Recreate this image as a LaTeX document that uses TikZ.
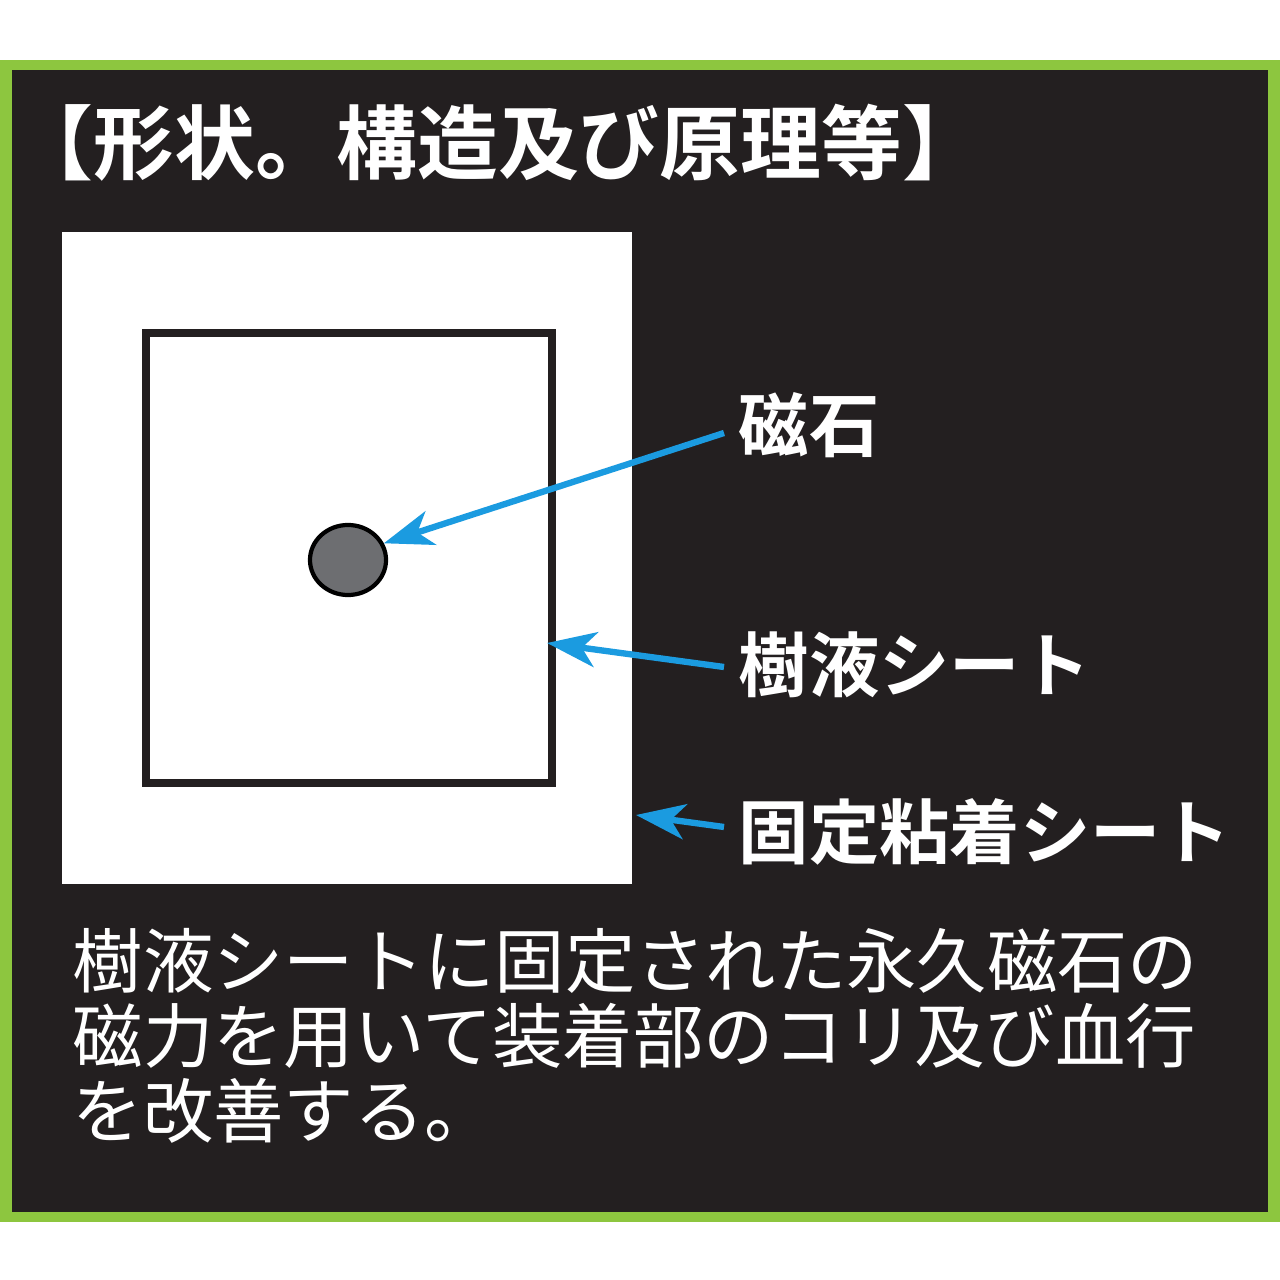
\documentclass[tikz,border=0pt]{standalone}
\usepackage{xcolor}
\usepackage{tikz}
\usepackage{fontspec}
\usetikzlibrary{shapes.geometric, arrows.meta, positioning, calc}

\newfontfamily\jpfont{Noto Sans CJK JP}
\newfontfamily\jpboldfont{Noto Sans CJK JP Bold}

\definecolor{framegreen}{HTML}{8DC63F}
\definecolor{boarddark}{HTML}{231F20}
\definecolor{pointblue}{HTML}{1B9BE0}
\definecolor{magnetgray}{HTML}{6D6E71}

\tikzset{
    partlabel/.style={anchor=west, text=white, inner sep=4pt, font=\jpboldfont\fontsize{20}{20}\selectfont},
    pointer/.style={-{Stealth[length=14pt, width=10pt, inset=4pt]}, line width=1.8pt, pointblue}
}

\begin{document}
\begin{tikzpicture}[x=0.01cm, y=-0.01cm]
    \useasboundingbox (0,0) rectangle (1280,1280);

    % Frame
    \fill[framegreen] (0,60) rectangle (1280,1222);
    \fill[boarddark] (12,70) rectangle (1268,1212);

    % Title
    \node[anchor=west, text=white, inner sep=0pt, font=\jpboldfont\fontsize{23}{23}\selectfont] (title) at (12,143) {【形状。構造及び原理等】};

    % Adhesive sheet
    \node[fill=white, minimum width=5.70cm, minimum height=6.52cm, inner sep=0pt] (adhesive) at (347,558) {};

    % Resin sheet
    \node[draw=boarddark, line width=2.3pt, fill=white, minimum width=4.06cm, minimum height=4.50cm, inner sep=0pt] (resin) at (349,558) {};

    % Magnet
    \node[ellipse, draw=black, line width=1.2pt, fill=magnetgray, minimum width=0.76cm, minimum height=0.70cm, inner sep=0pt] (magnet) at (348,560) {};

    % Labels
    \node[partlabel] (magnetlabel) at (724,425) {磁石};
    \node[partlabel] (resinlabel) at (724,665) {樹液シート};
    \node[partlabel] (adhesivelabel) at (724,832) {固定粘着シート};

    % Pointers
    \coordinate (resintip) at (547,643);
    \coordinate (adhesivetip) at (636,815);
    \draw[pointer] ([yshift=-0.08cm]magnetlabel.west) -- (magnet.25);
    \draw[pointer] ([yshift=-0.02cm]resinlabel.west) -- (resintip);
    \draw[pointer] ([yshift=0.05cm]adhesivelabel.west) -- (adhesivetip);

    % Description
    \node[anchor=north west, align=left, text=white, inner sep=0pt, font=\jpfont\fontsize{20}{21.3}\selectfont] (description) at (72,928) {樹液シートに固定された永久磁石の\\磁力を用いて装着部のコリ及び血行\\を改善する。};
\end{tikzpicture}
\end{document}
